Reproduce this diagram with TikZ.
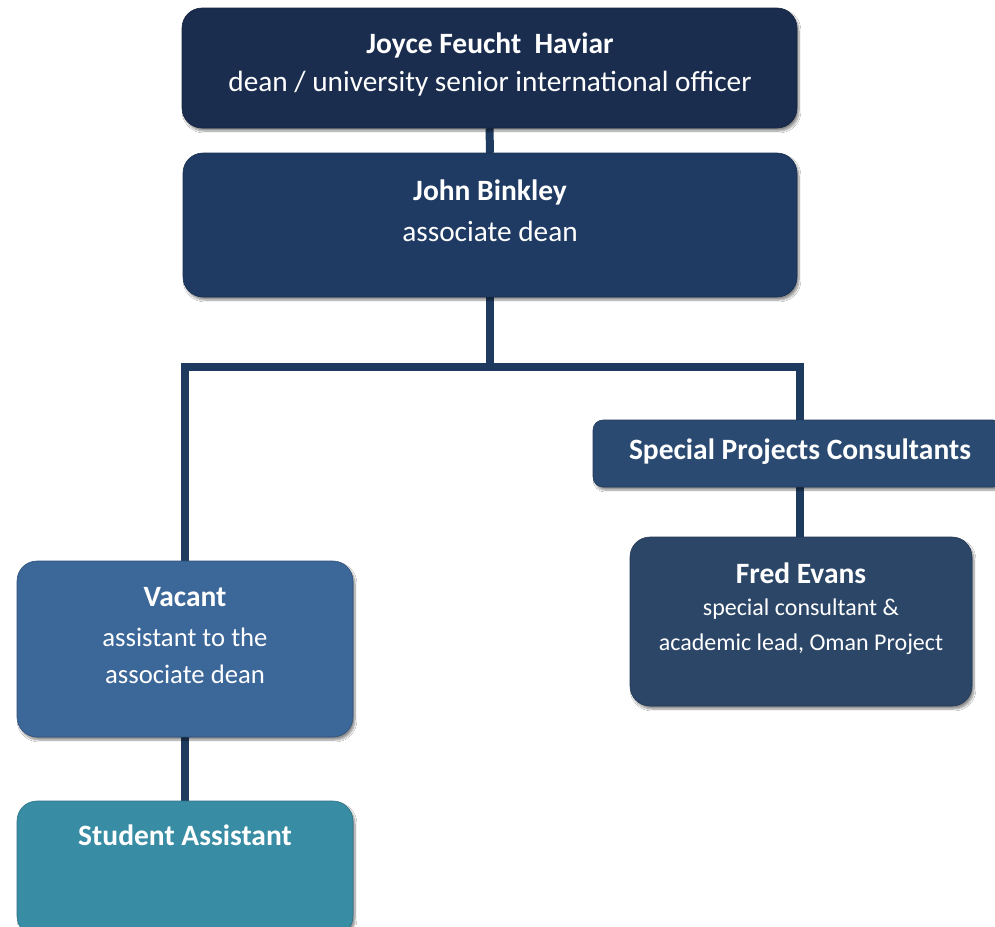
\documentclass[tikz,border=0pt]{standalone}
\usepackage{fontspec}
\setmainfont{Carlito}
\usetikzlibrary{shadows.blur}
\definecolor{cJoyce}{HTML}{1B2D4E}
\definecolor{cBinkley}{HTML}{1F3B64}
\definecolor{cSpecial}{HTML}{2A4A72}
\definecolor{cFred}{HTML}{2C4668}
\definecolor{cVacant}{HTML}{3C6799}
\definecolor{cStudent}{HTML}{388DA5}
\definecolor{cLink}{HTML}{1E3A5F}
\tikzset{
  orgbox/.style={rectangle, rounded corners=20pt, inner sep=0pt,
    draw=#1!80!black, line width=0.6pt, fill=#1,
    blur shadow={shadow xshift=2pt, shadow yshift=-3pt, shadow blur steps=8, shadow opacity=45}},
  link/.style={draw=cLink, line width=8pt},
  lbl/.style={text=white, align=center, inner sep=0pt},
  namefont/.style={font=\fontsize{29.5}{34}\selectfont\bfseries},
}
\begin{document}
\begin{tikzpicture}[x=1pt, y=-1pt]
  \useasboundingbox[fill=white] (0,0) rectangle (995,926);

  % box outlines, used as anchors for the reporting lines
  \path (489.5,68)  node[minimum width=615pt, minimum height=120pt] (joyce)   {}
        (490,225)   node[minimum width=614pt, minimum height=144pt] (binkley) {}
        (798,453.5) node[minimum width=410pt, minimum height=67pt]  (special) {}
        (801,621.5) node[minimum width=342pt, minimum height=169pt] (fred)    {}
        (185,649)   node[minimum width=336pt, minimum height=176pt] (vacant)  {}
        (185,868.5) node[minimum width=336pt, minimum height=135pt] (student) {};

  % reporting lines
  \coordinate (busL) at (185,367);
  \coordinate (busR) at (800,367);
  \path[link] (joyce.south) -- (binkley.north);
  \path[link] (binkley.south) -- (binkley.south |- busL);
  \path[link, line cap=rect] (busL) -- (busR);
  \path[link] (busL) -- (vacant.north);
  \path[link] (busR) -- (busR |- special.north);
  \path[link] (busR |- special.south) -- (busR |- fred.north);
  \path[link] (vacant.south) -- (student.north);

  % filled boxes on top of the lines
  \node[orgbox=cJoyce,   minimum width=615pt, minimum height=120pt] at (joyce) {};
  \node[orgbox=cBinkley, minimum width=614pt, minimum height=144pt] at (binkley) {};
  \node[orgbox=cSpecial, minimum width=410pt, minimum height=67pt, rounded corners=10pt] at (special) {};
  \node[orgbox=cFred,    minimum width=342pt, minimum height=169pt] at (fred) {};
  \node[orgbox=cVacant,  minimum width=336pt, minimum height=176pt] at (vacant) {};
  \node[orgbox=cStudent, minimum width=336pt, minimum height=135pt] at (student) {};

  % labels
  \node[lbl, namefont] (joyceName) at (490,45) {Joyce Feucht\ \ Haviar};
  \node[lbl, font=\fontsize{29.3}{34}\selectfont] (joyceRole) at (490,84) {dean / university senior international officer};
  \node[lbl, namefont] (binkleyName) at (490,192) {John Binkley};
  \node[lbl, font=\fontsize{29.3}{34}\selectfont] (binkleyRole) at (490,231) {associate dean};
  \node[lbl, namefont] (specialName) at (800,452) {Special Projects Consultants};
  \node[lbl, namefont] (fredName) at (801,573) {Fred Evans};
  \node[lbl, font=\fontsize{24}{35}\selectfont] (fredRole) at (801,627) {special consultant \&\\academic lead, Oman Project};
  \node[lbl, namefont] (vacantName) at (185,597) {Vacant};
  \node[lbl, font=\fontsize{26.7}{37}\selectfont] (vacantRole) at (185,656) {assistant to the\\associate dean};
  \node[lbl, namefont] (studentName) at (185,835) {Student Assistant};
\end{tikzpicture}
\end{document}
